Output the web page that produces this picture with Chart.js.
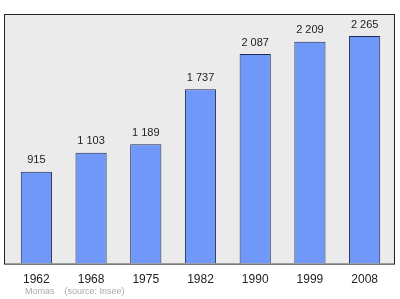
<!DOCTYPE html>
<html>
<head>
<meta charset="utf-8">
<script src="https://cdn.jsdelivr.net/npm/chart.js@4"></script>
<style>
  html, body { margin: 0; padding: 0; background: #fff; }
  #wrap { width: 400px; height: 299px; }
</style>
</head>
<body>
<div id="wrap"><canvas id="popChart" width="400" height="299"></canvas></div>
<script>
// Data
const years = ["1962", "1968", "1975", "1982", "1990", "1999", "2008"];
const population = [915, 1103, 1189, 1737, 2087, 2209, 2265];
const footerText = "Momas    (source: Insee)";

const FONT = "'Liberation Sans', Arial, sans-serif";

// thousands separated by a space, like "1 103"
function fmt(v) {
  return String(v).replace(/\B(?=(\d{3})+(?!\d))/g, " ");
}

// grey plot background with dark frame
const frame = {
  id: "frame",
  beforeDraw(chart) {
    const { ctx, chartArea: a } = chart;
    ctx.save();
    ctx.fillStyle = "#ebebeb";
    ctx.fillRect(a.left - 5, a.top, a.right - a.left + 8, a.bottom - a.top);
    ctx.strokeStyle = "#222";
    ctx.lineWidth = 1;
    ctx.strokeRect(a.left - 5 + 0.5, a.top + 0.5, a.right - a.left + 7, a.bottom - a.top);
    ctx.restore();
  }
};

// value labels above bars + footer line
const labels = {
  id: "labels",
  afterDatasetsDraw(chart) {
    const { ctx } = chart;
    const meta = chart.getDatasetMeta(0);
    ctx.save();
    ctx.font = "11px " + FONT;
    ctx.fillStyle = "#222";
    ctx.textAlign = "center";
    ctx.textBaseline = "bottom";
    meta.data.forEach((bar, i) => {
      ctx.fillText(fmt(population[i]), bar.x, bar.y - 6);
    });
    ctx.font = "9px " + FONT;
    ctx.fillStyle = "#aaa";
    ctx.textAlign = "left";
    ctx.textBaseline = "middle";
    ctx.fillText(footerText, 25, 292);
    ctx.restore();
  }
};

new Chart(document.getElementById("popChart"), {
  type: "bar",
  data: {
    labels: years,
    datasets: [{
      data: population,
      backgroundColor: "#6f98f8",
      borderColor: "#1e2a50",
      borderWidth: 1,
      barPercentage: 0.57,
      categoryPercentage: 1
    }]
  },
  options: {
    responsive: false,
    animation: false,
    layout: { padding: { left: 9, right: 8, top: 14, bottom: 3 } },
    plugins: { legend: { display: false }, tooltip: { enabled: false } },
    scales: {
      x: {
        grid: { display: false, drawTicks: false, tickLength: 0 },
        border: { display: false },
        ticks: { color: "#222", font: { size: 12, family: FONT }, padding: 9 }
      },
      y: { display: false, min: 0, max: 2485 }
    }
  },
  plugins: [frame, labels]
});
</script>
</body>
</html>
